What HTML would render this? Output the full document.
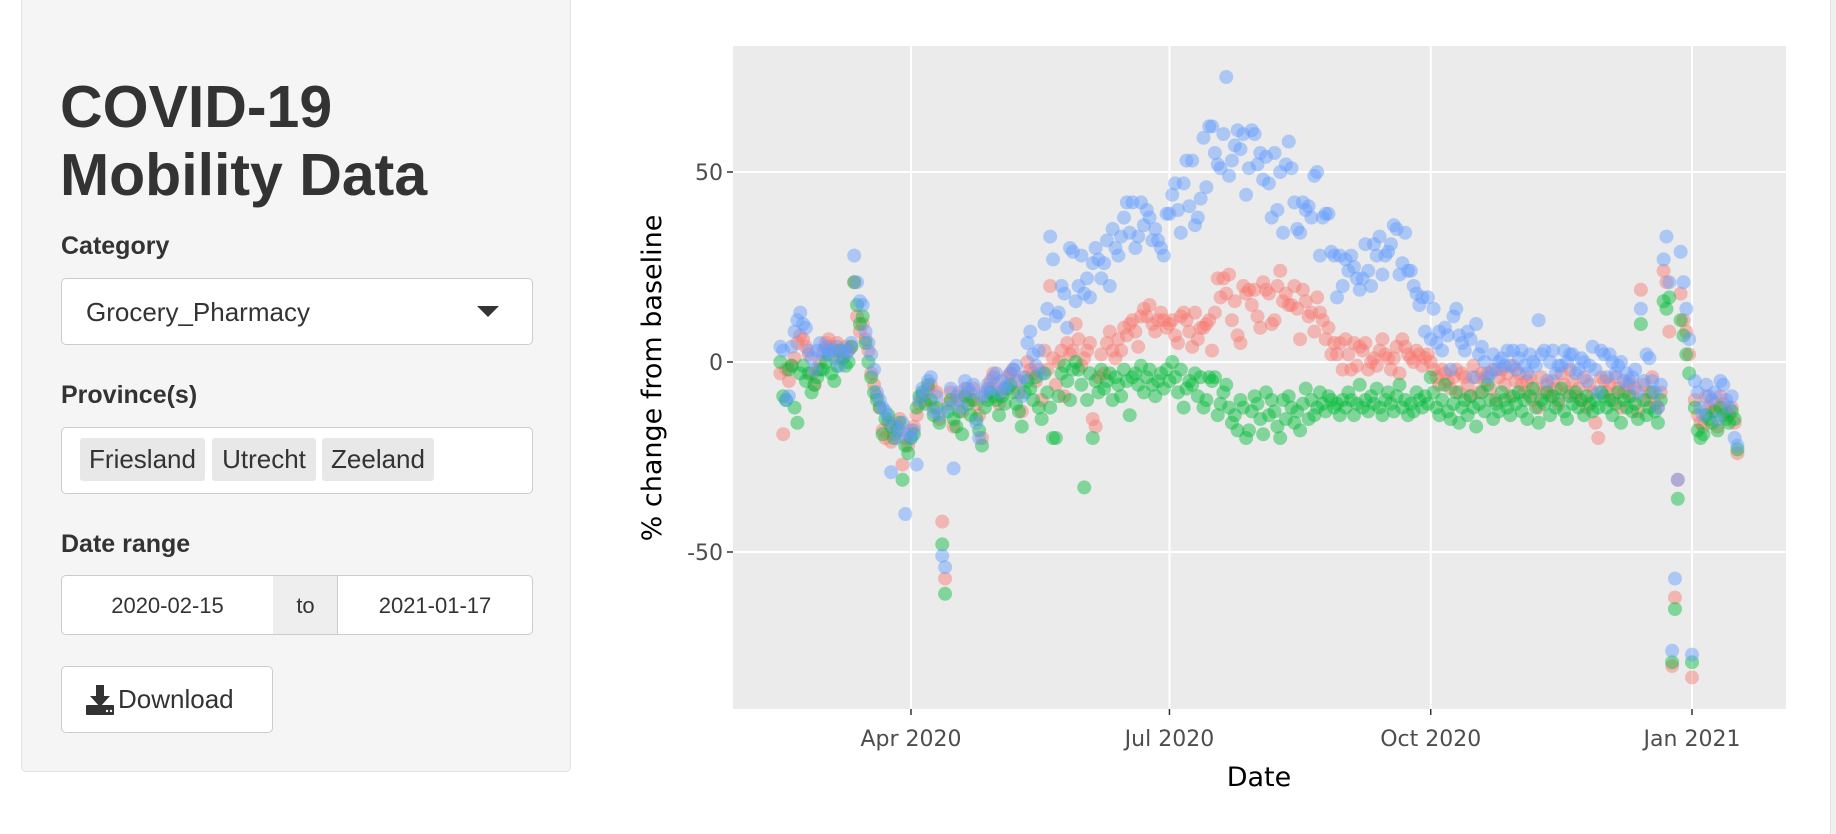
<!DOCTYPE html>
<html><head><meta charset="utf-8">
<style>
body{margin:0;width:1836px;height:834px;background:#fff;font-family:"Liberation Sans",Arial,sans-serif;color:#333;position:relative;overflow:hidden}
.abs{position:absolute}
#sidebar{left:21px;top:-6px;width:550px;height:778px;background:#f5f5f5;border:1px solid #e3e3e3;border-radius:5px;box-sizing:border-box}
.lbl{font-weight:bold;font-size:25px;color:#333;left:61px}
.box{background:#fff;border:1.5px solid #ccc;border-radius:5px;box-sizing:border-box}
.chip{background:#e8e8e8;border-radius:3px;font-size:26px;height:43px;line-height:43px;top:438px;text-align:center;color:#333}
.din{font-size:22px;text-align:center;line-height:60px;top:575px;height:60px;box-sizing:border-box;border:1.5px solid #ccc}
</style></head><body>
<div id="sidebar" class="abs"></div>
<div class="abs" style="left:60px;top:73px;font-size:59px;font-weight:bold;line-height:68px;color:#333">COVID-19<br>Mobility Data</div>
<div class="abs lbl" style="top:232px">Category</div>
<div class="abs box" style="left:61px;top:278px;width:472px;height:67px">
  <span class="abs" style="left:24px;top:18px;font-size:26px;color:#333">Grocery_Pharmacy</span>
  <span class="abs" style="left:415px;top:27px;width:0;height:0;border-left:11px solid transparent;border-right:11px solid transparent;border-top:11px solid #333"></span>
</div>
<div class="abs lbl" style="top:381px">Province(s)</div>
<div class="abs box" style="left:61px;top:427px;width:472px;height:67px"></div>
<div class="abs chip" style="left:80px;width:125px">Friesland</div>
<div class="abs chip" style="left:212px;width:104px">Utrecht</div>
<div class="abs chip" style="left:322px;width:112px">Zeeland</div>
<div class="abs lbl" style="top:530px">Date range</div>
<div class="abs din" style="left:61px;width:213px;background:#fff;border-radius:5px 0 0 5px">2020-02-15</div>
<div class="abs din" style="left:273px;width:65px;background:#eee;border-left:none;border-right:none">to</div>
<div class="abs din" style="left:337px;width:196px;background:#fff;border-radius:0 5px 5px 0">2021-01-17</div>
<div class="abs box" style="left:61px;top:666px;width:212px;height:67px">
  <svg class="abs" style="left:24px;top:18px" width="28" height="30" viewBox="0 0 28 30"><path d="M10 0h8v11h6l-10 11-10-11h6z" fill="#333"/><rect x="0" y="20" width="28" height="10" rx="1" fill="#333"/><circle cx="21" cy="26" r="1.2" fill="#fff"/><circle cx="25" cy="26" r="1.2" fill="#fff"/></svg>
  <span class="abs" style="left:56px;top:17px;font-size:26px;color:#333">Download</span>
</div>
<div class="abs" style="left:1830px;top:0;width:6px;height:834px;background:#f0f0f0;border-left:1px solid #e2e2e2"></div>

<svg id="chart" class="abs" style="left:0;top:0" width="1836" height="834"></svg>
<script>
const seriesNames=["Friesland","Utrecht","Zeeland"];
const seriesColors=["#F8766D","#00BA38","#619CFF"];
const monthStarts=["2020-02-15","2020-03-01","2020-04-01","2020-05-01","2020-06-01","2020-07-01","2020-08-01","2020-09-01","2020-10-01","2020-11-01","2020-12-01","2021-01-01"];
const yTicks=[-50,0,50];
const xTickDates=["2020-04-01","2020-07-01","2020-10-01","2021-01-01"];
const xTickLabels=["Apr 2020","Jul 2020","Oct 2020","Jan 2021"];
const redValues=[
[-3,-19,-2,-5,-1,1,5,7,6,4,2,-3,-6,-2,0],
[3,5,6,4,3,5,1,2,4,3,4,21,12,8,10,6,3,-3,-6,-9,-12,-18,-20,-16,-21,-19,-17,-15,-27,-20,-22],
[-18,-17,-14,-11,-9,-10,-7,-6,-12,-8,-15,-42,-57,-11,-8,-17,-9,-10,-13,-7,-8,-10,-7,-11,-14,-20,-9,-7,-5,-3],
[-6,-11,-8,-7,-4,-3,-2,-5,-8,-13,-4,0,-2,-3,-5,-2,-10,3,-2,20,1,-6,0,3,-9,5,2,3,10,6,-1],
[1,3,5,-15,-17,-4,2,-3,5,8,3,1,6,3,9,7,10,11,8,4,12,14,12,15,10,8,11,13,11,9],
[10,11,7,5,12,13,11,8,4,13,6,9,9,10,11,3,13,22,17,22,18,23,11,16,7,5,20,18,19,15,19],
[12,9,21,19,18,10,11,20,24,16,18,15,15,20,14,6,19,16,12,13,8,17,13,11,6,9,2,5,2,5,-2],
[6,2,-2,5,-1,4,3,5,-2,0,1,-1,3,6,2,1,-2,1,4,-3,6,4,2,1,0,3,2,-1,1,2],
[0,-2,-4,-6,-2,-3,-5,-7,-4,-2,-8,-3,-4,-6,-9,-1,-4,-8,-3,-5,-3,-7,-2,-10,-4,-2,-6,-3,-9,-1,-5],
[-3,-6,-8,-5,-4,-10,-7,-12,-4,-8,-6,-9,-5,-7,-11,-3,-6,-8,-2,-5,-9,-7,-10,-4,-12,-6,-8,-16,-20,-4],
[-5,-8,-6,-10,-4,-7,-12,-8,-6,-5,-9,-7,-13,19,-6,-10,-8,-4,-11,-12,-8,24,21,8,-80,-62,-31,18,11,8,2],
[-83,-10,-14,-16,-17,-9,-12,-13,-11,-17,-9,-11,-13,-14,-12,-16,-24]];
const greenValues=[
[0,-9,-10,-2,-1,-12,-16,-3,-1,-5,-3,-8,-6,-4,-2],
[-2,0,2,-3,-5,-1,3,1,-1,0,4,21,15,10,12,5,0,-4,-8,-10,-12,-19,-15,-14,-17,-20,-18,-16,-31,-22,-24],
[-20,-19,-12,-9,-8,-11,-6,-10,-14,-12,-16,-48,-61,-13,-10,-15,-17,-13,-19,-9,-11,-14,-10,-15,-18,-22,-12,-10,-8,-9],
[-10,-14,-9,-11,-7,-6,-8,-11,-13,-17,-8,-5,-7,-10,-4,-12,-15,-3,-8,-12,-20,-20,-9,-3,-1,-5,-10,-2,0,-2,-6],
[-33,-10,-3,-20,-5,-8,-2,-7,-5,-3,-10,-4,-6,-9,-2,-5,-14,-4,-3,-6,-1,-8,-4,-2,-6,-9,-5,-3,-7,-2],
[-5,0,-4,-8,-2,-12,-7,-5,-6,-3,-9,-4,-12,-10,-4,-5,-4,-14,-11,-8,-6,-12,-16,-14,-18,-10,-12,-20,-18,-13,-9],
[-11,-15,-19,-8,-14,-10,-13,-17,-20,-10,-15,-9,-12,-16,-13,-18,-11,-7,-15,-10,-14,-12,-8,-11,-13,-9,-10,-12,-11,-14,-10],
[-12,-8,-10,-14,-11,-6,-12,-10,-13,-9,-11,-7,-12,-14,-10,-8,-11,-13,-9,-6,-12,-10,-14,-11,-13,-8,-10,-12,-9,-11],
[-4,-8,-12,-14,-10,-6,-13,-15,-11,-8,-16,-12,-10,-14,-9,-12,-17,-11,-8,-13,-6,-10,-15,-11,-13,-8,-10,-12,-14,-9,-11],
[-8,-13,-10,-15,-9,-7,-12,-16,-10,-11,-8,-14,-9,-12,-10,-7,-13,-15,-9,-11,-8,-12,-10,-14,-9,-11,-13,-10,-12,-8],
[-9,-12,-10,-14,-11,-8,-16,-10,-12,-9,-13,-11,-15,10,-10,-14,-12,-8,-13,-16,-10,16,14,17,-79,-65,-36,11,7,2,-3],
[-79,-12,-18,-20,-19,-14,-15,-16,-13,-18,-12,-14,-15,-16,-13,-15,-23]];
const blueValues=[
[4,3,-10,-9,4,8,11,13,10,9,3,1,-2,3,5],
[2,4,3,3,1,4,-1,3,2,3,5,28,21,16,15,8,5,2,-2,-8,-10,-12,-13,-15,-29,-17,-20,-18,-16,-40,-19],
[-20,-18,-27,-10,-7,-8,-5,-4,-13,-9,-14,-51,-54,-12,-7,-28,-10,-8,-12,-5,-7,-8,-6,-16,-20,-9,-8,-6,-7,-4],
[-3,-8,-5,-7,-6,-3,-2,-1,-5,-9,-4,5,8,2,-1,3,-3,10,14,33,27,12,13,20,18,9,30,29,16,20,28],
[18,22,17,26,30,27,22,26,32,20,35,30,28,33,38,42,34,42,30,33,42,36,40,38,32,35,32,30,28,39],
[39,44,47,40,34,47,53,41,53,36,38,43,59,46,62,62,55,52,51,60,75,49,53,57,61,56,60,44,51,61,60],
[52,55,48,54,47,38,55,40,50,34,52,58,51,42,35,34,42,40,41,38,49,50,28,38,39,39,29,28,17,28,20],
[27,24,28,25,22,19,22,31,24,20,31,28,33,23,28,29,31,36,35,23,26,34,24,24,20,18,15,17,8,17],
[6,14,5,8,3,9,7,-2,12,14,7,5,3,8,6,-4,10,2,4,0,-4,-3,2,-2,0,1,-1,3,-1,3,-2],
[1,3,-1,-3,2,0,-1,11,2,3,-5,0,3,-3,-1,-1,3,0,2,2,-3,-2,1,0,-5,-1,4,-2,-8,3],
[2,-4,2,0,-3,-1,0,-5,-3,-6,-4,-2,-8,14,-5,2,1,-5,-8,-12,-6,27,33,21,-76,-57,-31,29,21,14,6],
[-77,-5,-8,-12,-14,-6,-9,-10,-8,-15,-5,-6,-10,-12,-9,-20,-22]];
const allSeries=[redValues,greenValues,blueValues];

const NS="http://www.w3.org/2000/svg";
const svg=document.getElementById('chart');
const P={l:733,r:1786,t:46,b:709};
const DAY=86400000, ORIGIN=Date.UTC(2020,3,1);
function dayOf(s){const p=s.split('-');return (Date.UTC(+p[0],+p[1]-1,+p[2])-ORIGIN)/DAY;}
function xScale(d){return 911+d*2.84;}
function yScale(v){return 362-v*3.8;}
function mk(tag,attrs){const e=document.createElementNS(NS,tag);for(const k in attrs)e.setAttribute(k,attrs[k]);svg.appendChild(e);return e;}

const bg=mk('rect',{x:P.l,y:P.t,width:P.r-P.l,height:P.b-P.t,fill:'#ebebeb'});


yTicks.forEach(v=>{
  const y=yScale(v);
  const g=mk('line',{x1:P.l,x2:P.r,y1:y,y2:y,stroke:'#fff','stroke-width':2});
  
  
  const t=mk('line',{x1:P.l-6,x2:P.l,y1:y,y2:y,stroke:'#333','stroke-width':1.5});
  
  
  const tx=mk('text',{x:P.l-10,y:y+8,'text-anchor':'end','font-size':22,fill:'#4d4d4d','font-family':'DejaVu Sans, Liberation Sans, sans-serif'});
  tx.textContent=v;
  
  
});
xTickDates.forEach((d,i)=>{
  const x=xScale(dayOf(d));
  const g=mk('line',{x1:x,x2:x,y1:P.t,y2:P.b,stroke:'#fff','stroke-width':2});
  
  
  const t=mk('line',{x1:x,x2:x,y1:P.b,y2:P.b+6,stroke:'#333','stroke-width':1.5});
  
  
  const tx=mk('text',{x:x,y:746,'text-anchor':'middle','font-size':22,fill:'#4d4d4d','font-family':'DejaVu Sans, Liberation Sans, sans-serif'});
  tx.textContent=xTickLabels[i];
  
  
});
allSeries.forEach((series,si)=>{
  series.forEach((month,mi)=>{
    const d0=dayOf(monthStarts[mi]);
    month.forEach((v,di)=>{
      const c=mk('circle',{cx:xScale(d0+di),cy:yScale(v),r:7,fill:seriesColors[si],'fill-opacity':0.45});
      
      
    });
  });
});
const yt=mk('text',{x:0,y:0,transform:'translate(661,378) rotate(-90)','text-anchor':'middle','font-size':27,fill:'#000','font-family':'DejaVu Sans, Liberation Sans, sans-serif'});
yt.textContent='% change from baseline';


const xt=mk('text',{x:1259,y:786,'text-anchor':'middle','font-size':27,fill:'#000','font-family':'DejaVu Sans, Liberation Sans, sans-serif'});
xt.textContent='Date';


</script>
</body></html>
